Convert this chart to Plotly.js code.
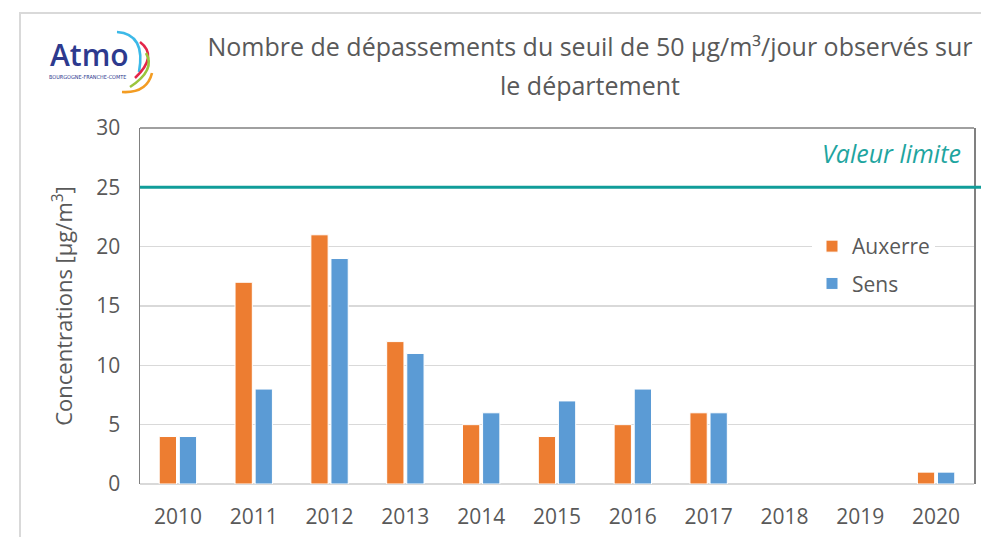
<!DOCTYPE html>
<html>
<head>
<meta charset="utf-8">
<script src="https://cdn.plot.ly/plotly-3.0.1.min.js"></script>
<style>html,body{margin:0;padding:0;background:#fff;}#chart{width:981px;height:537px;}</style>
</head>
<body>
<div id="chart"></div>
<script>
// ---- data ----
const years = ['2010','2011','2012','2013','2014','2015','2016','2017','2018','2019','2020'];
const auxerre = [4, 17, 21, 12, 5, 4, 5, 6, null, null, 1];
const sens    = [4, 8, 19, 11, 6, 7, 8, 6, null, null, 1];
const seriesNames = ['Auxerre', 'Sens'];
const limitValue = 25;
const yTicks = [0, 5, 10, 15, 20, 25, 30];

// ---- pixel helpers for decorations (plot area: x 140..974, y 128..484) ----
const PL = 140, PR = 974, PT = 128, PB = 484;
const px = v => (v - PL) / (PR - PL);
const py = v => (PB - v) / (PB - PT);
function qpath(p0, c, p1) {
  return 'M' + px(p0[0]) + ',' + py(p0[1]) + ' Q' + px(c[0]) + ',' + py(c[1]) + ' ' + px(p1[0]) + ',' + py(p1[1]);
}
function ctrl(p0, m, p1) { return [2*m[0] - (p0[0]+p1[0])/2, 2*m[1] - (p0[1]+p1[1])/2]; }
function arc(p0, m, p1, color) {
  return {type:'path', xref:'paper', yref:'paper', path: qpath(p0, ctrl(p0,m,p1), p1),
          line:{color:color, width:2.6}};
}

const textColor = '#595959';
const fontFam = '"Open Sans", "DejaVu Sans", sans-serif';

const traces = [
  {type:'bar', x: years, y: auxerre, name: seriesNames[0], legendgroup:'a',
   marker:{color:'#ED7D31', line:{color:'#ffffff', width:1}}},
  {type:'bar', x: years, y: sens, name: seriesNames[1], legendgroup:'b',
   marker:{color:'#5B9BD5', line:{color:'#ffffff', width:1}}}
];

const shapes = [
  {type:'rect', xref:'paper', yref:'paper', x0: px(20), x1: px(1010), y0: py(560), y1: py(13),
   line:{color:'#D9D9D9', width:2}, fillcolor:'rgba(0,0,0,0)', layer:'below'},
  {type:'line', xref:'paper', yref:'paper', x0:0, x1:1, y0:1, y1:1, line:{color:'#808080', width:1.5}},
  {type:'line', xref:'paper', yref:'y', x0:0, x1: px(985), y0: limitValue, y1: limitValue,
   line:{color:'#109D99', width:3}},
  arc([117,32],[137,43],[139,72], '#3CB9E8'),
  arc([140,42],[148,58],[135,78], '#E4264A'),
  arc([146,53],[147,70],[130,87], '#9BC53D'),
  arc([152,73],[142,88],[122,92], '#F39C22')
];

const annotations = [
  {xref:'paper', yref:'paper', x: px(590), y: py(85), text:'le département', showarrow:false,
   font:{family:fontFam, size:25, color:textColor}, xanchor:'center', yanchor:'middle'},
  {xref:'paper', yref:'paper', x: px(891), y: py(153), text:'<i>Valeur limite</i>', showarrow:false,
   font:{family:fontFam, size:25, color:'#1FA5A0'}, xanchor:'center', yanchor:'middle'},
  {xref:'paper', yref:'paper', x: px(89), y: py(54), text:'Atmo', showarrow:false,
   font:{family:fontFam, size:30, color:'#2D3A8E', weight:600}, xanchor:'center', yanchor:'middle'},
  {xref:'paper', yref:'paper', x: px(87), y: py(76.5), text:'BOURGOGNE-FRANCHE-COMTE', showarrow:false,
   font:{family:'"Liberation Sans Narrow", "DejaVu Sans Condensed", sans-serif', size:5.5, color:'#2D3A8E'},
   xanchor:'center', yanchor:'middle'}
];

const layout = {
  width: 981, height: 537,
  margin: {l: PL, r: 981 - PR, t: PT, b: 537 - PB, pad: 0},
  paper_bgcolor: '#ffffff', plot_bgcolor: '#ffffff',
  font: {family: fontFam, color: textColor, size: 21},
  title: {
    text: 'Nombre de dépassements du seuil de 50 µg/m³/jour observés sur',
    x: px(590), xref:'paper', xanchor:'center',
    y: 1 - 47/537, yref:'container', yanchor:'middle',
    font: {family: fontFam, size: 25, color: textColor}
  },
  barmode: 'group', bargap: 0.47, bargroupgap: 0.14,
  showlegend: true,
  legend: {x: px(812), y: py(226), xanchor:'left', yanchor:'top', bgcolor:'#ffffff',
           font:{family: fontFam, size: 21, color: textColor},
           traceorder:'grouped', tracegroupgap: 7, itemwidth: 30},
  xaxis: {type:'category', showgrid:false, zeroline:false, showline:false, ticks:'',
          tickfont:{size:21, color:textColor}, ticklabelstandoff: 18, fixedrange:true},
  yaxis: {range:[0,30], tickvals: yTicks, showgrid:true, gridcolor:'#D9D9D9', gridwidth:1.3,
          zeroline:true, zerolinecolor:'#D9D9D9', zerolinewidth:1.5,
          showline:true, mirror:true, linecolor:'#808080', linewidth:1.5, ticks:'',
          tickfont:{size:21, color:textColor}, ticklabelstandoff: 14,
          title:{text:'Concentrations [µg/m<sup>3</sup>]', font:{size:22, color:textColor}, standoff: 17},
          fixedrange:true},
  shapes: shapes,
  annotations: annotations
};

Plotly.newPlot('chart', traces, layout, {displayModeBar:false, staticPlot:true});
</script>
</body>
</html>
